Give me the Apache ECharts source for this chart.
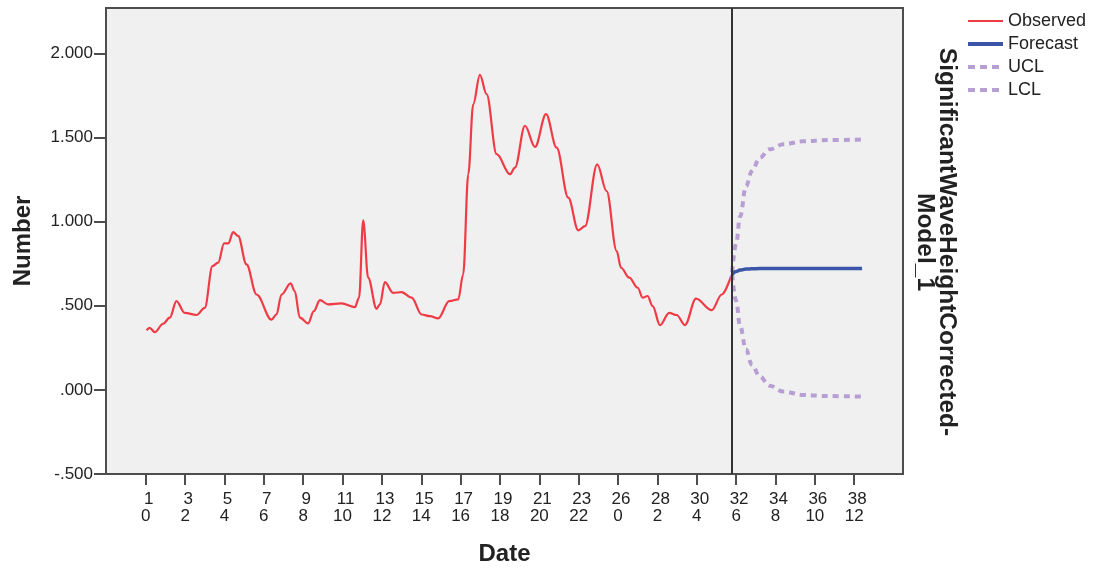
<!DOCTYPE html>
<html>
<head>
<meta charset="utf-8">
<script src="https://cdn.jsdelivr.net/npm/echarts@6/dist/echarts.min.js"></script>
<style>
html,body{margin:0;padding:0;background:#fff;}
#chart{width:1096px;height:571px;}
</style>
</head>
<body>
<div id="chart"></div>
<script>
// Tick labels (two rows) at tick positions 0,2,4,...,36 of the time index
const tickTop = ['1','3','5','7','9','11','13','15','17','19','21','23','26','28','30','32','34','36','38'];
const tickBottom = ['0','2','4','6','8','10','12','14','16','18','20','22','0','2','4','6','8','10','12'];
const yTicks = [-0.5, 0, 0.5, 1.0, 1.5, 2.0];

// Observed series (time index, value)
const obsT = [0.04,0.2,0.46,0.88,1.22,1.56,1.98,2.58,3.0,3.39,3.68,3.98,4.2,4.44,4.69,5.12,5.63,6.39,6.64,6.9,7.36,7.57,7.83,8.25,8.54,8.85,9.27,9.95,10.63,10.84,11.05,11.3,11.73,11.9,12.15,12.57,13.0,13.51,14.02,14.44,14.86,15.42,15.88,16.13,16.39,16.64,16.98,17.32,17.83,18.51,18.76,19.27,19.78,20.34,20.88,21.47,21.98,22.32,22.94,23.42,23.93,24.15,24.57,25.0,25.25,25.5,25.76,26.13,26.6,26.98,27.4,27.96,28.76,29.27,29.75];
const obsV = [0.355,0.369,0.343,0.393,0.429,0.528,0.458,0.445,0.488,0.736,0.756,0.871,0.871,0.938,0.915,0.746,0.567,0.418,0.448,0.567,0.633,0.587,0.429,0.395,0.468,0.534,0.508,0.514,0.492,0.548,1.008,0.667,0.482,0.508,0.641,0.577,0.581,0.548,0.448,0.438,0.425,0.528,0.538,0.686,1.282,1.698,1.873,1.758,1.401,1.282,1.321,1.570,1.444,1.639,1.440,1.143,0.948,0.973,1.341,1.182,0.825,0.726,0.667,0.607,0.548,0.558,0.498,0.385,0.458,0.445,0.385,0.542,0.474,0.567,0.680];

// Forecast with confidence limits
const fcT = [29.8,30.0,30.2,30.5,30.8,31.2,31.7,32.4,33.4,34.7,36.4];
const fcV = [0.686,0.703,0.712,0.718,0.720,0.721,0.722,0.722,0.722,0.722,0.722];
const uclV = [0.70,0.87,1.03,1.21,1.30,1.38,1.43,1.46,1.478,1.485,1.488];
const lclV = [0.686,0.53,0.38,0.24,0.15,0.08,0.025,-0.01,-0.03,-0.037,-0.04];
const forecastOrigin = 29.8;

const zip = (xs, ys) => xs.map((x, i) => [x, ys[i]]);
const fmtY = v => {
  let s = Math.abs(v).toFixed(3);
  if (s.startsWith('0')) s = s.slice(1);
  return (v < 0 ? '-' : '') + s;
};

const FONT = 'Liberation Sans, Arial, sans-serif';
const FRAME = '#4d4d4d';
const RED = '#ef3b45', BLUE = '#3b55a8', PURPLE = '#b89fd3';
const chart = echarts.init(document.getElementById('chart'));
chart.setOption({
  animation: false,
  backgroundColor: '#ffffff',
  grid: {
    left: 106, right: 193, top: 8, bottom: 96,
    show: true, backgroundColor: '#f0f0f0', borderColor: FRAME, borderWidth: 2
  },
  legend: {
    orient: 'vertical', left: 961, top: 7,
    itemWidth: 35, itemHeight: 14, itemGap: 5,
    itemStyle: { opacity: 0 },
    textStyle: { fontFamily: FONT, fontSize: 18, color: '#222' },
    data: [
      { name: 'Observed', lineStyle: { width: 2 } },
      { name: 'Forecast', lineStyle: { width: 4 } },
      { name: 'UCL', lineStyle: { width: 4, type: [7, 5] } },
      { name: 'LCL', lineStyle: { width: 4, type: [7, 5] } }
    ]
  },
  xAxis: {
    type: 'value', min: -2.02, max: 38.48,
    name: 'Date', nameLocation: 'middle', nameGap: 68,
    nameTextStyle: { fontFamily: FONT, fontSize: 24, fontWeight: 'bold', color: '#222' },
    splitLine: { show: false },
    axisLine: { show: true, onZero: false, lineStyle: { color: FRAME, width: 2 } },
    axisTick: { show: true, length: 11, lineStyle: { color: FRAME, width: 2 },
      customValues: tickTop.map((_, i) => i * 2) },
    axisLabel: {
      customValues: tickTop.map((_, i) => i * 2),
      margin: 17,
      formatter: v => { const i = Math.round(v / 2); return '{a|' + tickTop[i] + '}\n{b|' + tickBottom[i] + '}'; },
      rich: {
        a: { fontFamily: FONT, fontSize: 17, color: '#222', lineHeight: 17, padding: [0, 0, 0, 6] },
        b: { fontFamily: FONT, fontSize: 17, color: '#222', lineHeight: 17 }
      }
    }
  },
  yAxis: {
    type: 'value', min: -0.5, max: 2.27,
    name: 'Number', nameLocation: 'middle', nameGap: 71,
    nameTextStyle: { fontFamily: FONT, fontSize: 24, fontWeight: 'bold', color: '#222' },
    splitLine: { show: false },
    axisLine: { show: true, onZero: false, lineStyle: { color: FRAME, width: 2 } },
    axisTick: { show: true, length: 12, lineStyle: { color: FRAME, width: 2 }, customValues: yTicks },
    axisLabel: { customValues: yTicks, formatter: fmtY, margin: 13,
      fontFamily: FONT, fontSize: 17, color: '#222' }
  },
  graphic: [{
    type: 'text', x: 936, y: 242, rotation: -Math.PI / 2,
    style: {
      text: 'SignificantWaveHeightCorrected-\nModel_1',
      fontFamily: FONT, fontSize: 24.5, fontWeight: 'bold', fill: '#222',
      align: 'center', verticalAlign: 'middle', lineHeight: 22
    }
  }],
  series: [
    {
      name: 'Observed', type: 'line', data: zip(obsT, obsV),
      showSymbol: false, symbol: 'none', smooth: 0.35, smoothMonotone: 'x',
      lineStyle: { color: RED, width: 2.2 }, itemStyle: { color: RED },
      markLine: {
        silent: true, symbol: 'none', label: { show: false },
        lineStyle: { color: '#333333', width: 2, type: 'solid' },
        data: [{ xAxis: forecastOrigin }]
      }
    },
    {
      name: 'Forecast', type: 'line', data: zip(fcT, fcV),
      showSymbol: false, symbol: 'none', smooth: 0.4, smoothMonotone: 'x',
      lineStyle: { color: BLUE, width: 3.5 }, itemStyle: { color: BLUE }, z: 4
    },
    {
      name: 'UCL', type: 'line', data: zip(fcT, uclV),
      showSymbol: false, symbol: 'none', smooth: 0.4, smoothMonotone: 'x',
      lineStyle: { color: PURPLE, width: 4, type: [6, 5] }, itemStyle: { color: PURPLE }
    },
    {
      name: 'LCL', type: 'line', data: zip(fcT, lclV),
      showSymbol: false, symbol: 'none', smooth: 0.4, smoothMonotone: 'x',
      lineStyle: { color: PURPLE, width: 4, type: [6, 5] }, itemStyle: { color: PURPLE }
    }
  ]
});
</script>
</body>
</html>
